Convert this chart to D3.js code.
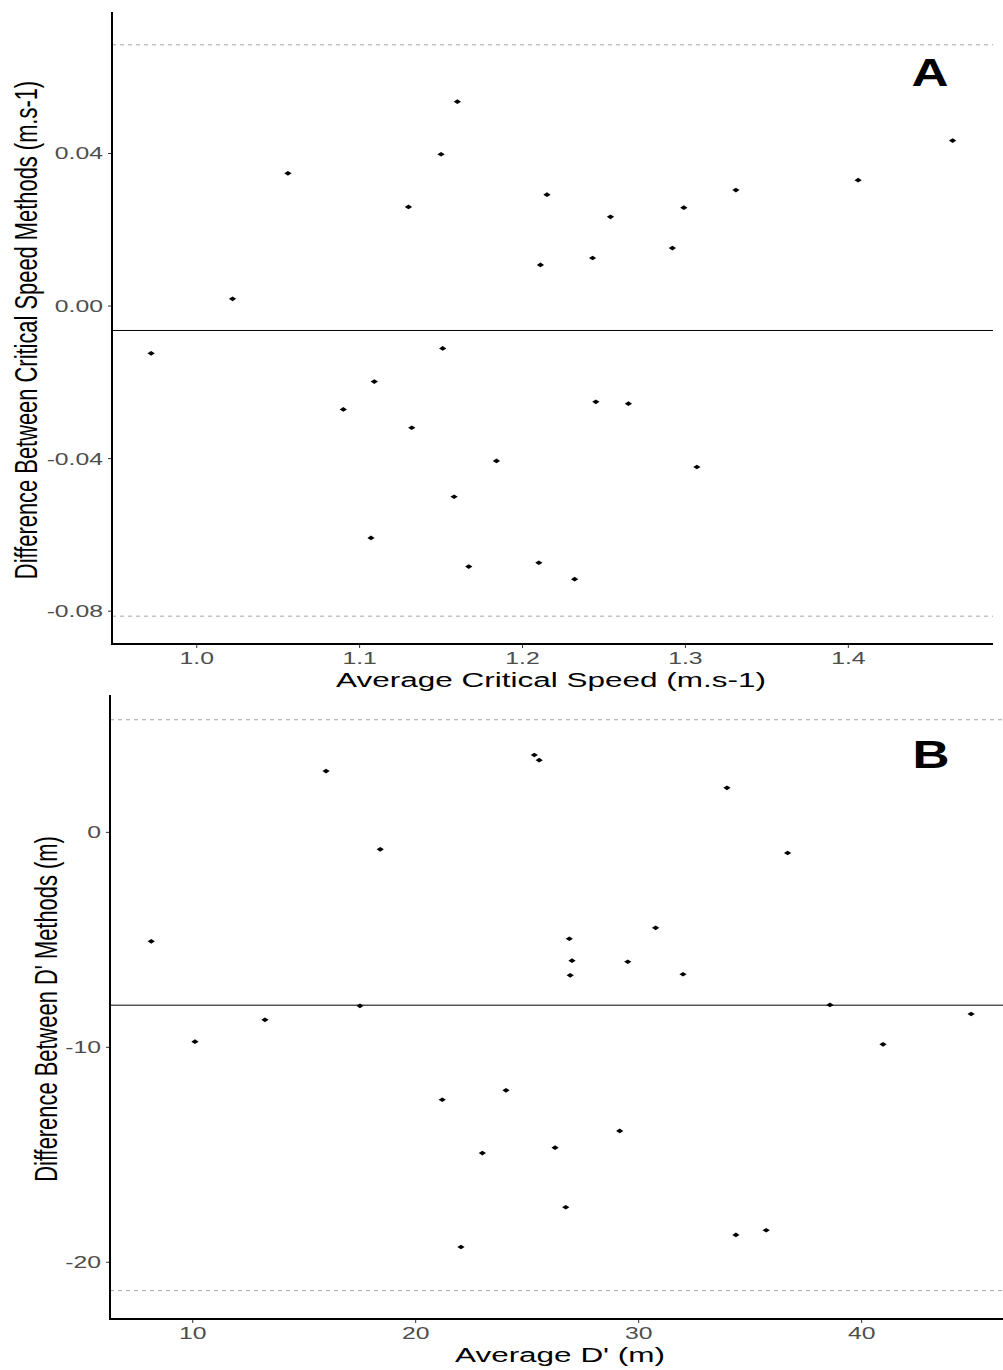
<!doctype html>
<html>
<head>
    <meta charset="utf-8"/>
    <style>
        html, body {
            margin: 0;
            padding: 0;
            background: #fff;
        }
        svg {
            display: block;
            font-family: "Liberation Sans", Arial, sans-serif;
        }
        .tick-label {
            fill: #4d4d4d;
            font-size: 16.5px;
        }
        .axis-title {
            fill: #000;
            font-size: 21px;
        }
        .axis-title.rot {
            font-size: 21.9px;
        }
        .panel-tag {
            fill: #000;
            font-size: 38px;
            font-weight: bold;
        }
    </style>
    <script src="https://d3js.org/d3.v7.min.js"></script>
</head>
<body>

<svg width="1003" height="1370"></svg>

<script>
    // Panel A: critical speed (m.s-1)
    var aAvg = [0.972, 1.022, 1.056, 1.090, 1.109, 1.107, 1.130, 1.132, 1.150, 1.151,
                1.160, 1.158, 1.167, 1.184, 1.211, 1.210, 1.215, 1.232, 1.243, 1.245,
                1.254, 1.265, 1.292, 1.299, 1.307, 1.331, 1.406, 1.464];
    var aDiff = [-0.0124, 0.0019, 0.0348, -0.0271, -0.0198, -0.0608, 0.0260, -0.0319, 0.0398, -0.0111,
                 0.0536, -0.0500, -0.0683, -0.0406, 0.0108, -0.0673, 0.0292, -0.0716, 0.0126, -0.0251,
                 0.0234, -0.0256, 0.0152, 0.0258, -0.0422, 0.0304, 0.0330, 0.0434];
    var aBias = -0.0064;
    var aLimits = [0.0685, -0.0813];
    var aXTicks = [1.0, 1.1, 1.2, 1.3, 1.4];
    var aYTicks = [-0.08, -0.04, 0.00, 0.04];

    // Panel B: D' (m)
    var bAvg = [8.14, 15.98, 18.41, 17.50, 13.24, 25.32, 25.54, 33.96, 36.68, 26.89,
                30.76, 27.01, 29.51, 26.93, 31.99, 38.58, 44.91, 10.10, 21.19, 22.99,
                22.03, 24.05, 26.25, 29.15, 26.73, 34.36, 35.72, 40.96];
    var bDiff = [-5.07, 2.85, -0.79, -8.07, -8.72, 3.60, 3.36, 2.07, -0.96, -4.95,
                 -4.44, -5.97, -6.02, -6.65, -6.60, -8.03, -8.45, -9.74, -12.44, -14.92,
                 -19.29, -12.00, -14.67, -13.89, -17.44, -18.73, -18.51, -9.86];
    var bBias = -8.04;
    var bLimits = [5.24, -21.32];
    var bXTicks = [10, 20, 30, 40];
    var bYTicks = [-20, -10, 0];

    var svg = d3.select("svg");
    var SX = 1.5; // the original picture is stretched sideways

    function drawPanel(opt) {
        var x = d3.scaleLinear().domain(opt.xDomain).range([opt.left, opt.right]);
        var y = d3.scaleLinear().domain(opt.yDomain).range([opt.bottom, opt.top]);
        var g = svg.append("g");

        // limits of agreement and bias
        opt.limits.forEach(function(v) {
            g.append("line")
                .attr("x1", opt.left).attr("x2", opt.right)
                .attr("y1", y(v)).attr("y2", y(v))
                .attr("stroke", "#a6a6a6").attr("stroke-width", 1)
                .attr("stroke-dasharray", "4,4");
        });
        g.append("line")
            .attr("x1", opt.left).attr("x2", opt.right)
            .attr("y1", y(opt.bias)).attr("y2", y(opt.bias))
            .attr("stroke", "#000").attr("stroke-width", 1);

        // points (flattened diamonds)
        var diamond = d3.symbol().type(d3.symbolSquare).size(11);
        g.append("g").selectAll("path")
            .data(d3.zip(opt.xs, opt.ys))
            .enter().append("path")
            .attr("d", diamond)
            .attr("fill", "#000")
            .attr("transform", function(d) {
                return "translate(" + x(d[0]) + "," + y(d[1]) + ") scale(1.55,1) rotate(45)";
            });

        // axis lines
        g.append("line")
            .attr("x1", opt.left).attr("x2", opt.left)
            .attr("y1", opt.top).attr("y2", opt.bottom + 1)
            .attr("stroke", "#000").attr("stroke-width", 2);
        g.append("line")
            .attr("x1", opt.left - 1).attr("x2", opt.right)
            .attr("y1", opt.bottom).attr("y2", opt.bottom)
            .attr("stroke", "#000").attr("stroke-width", 2);

        // ticks
        opt.xTicks.forEach(function(t) {
            g.append("line")
                .attr("x1", x(t)).attr("x2", x(t))
                .attr("y1", opt.bottom + 1).attr("y2", opt.bottom + 4)
                .attr("stroke", "#333").attr("stroke-width", 1);
            g.append("text")
                .attr("class", "tick-label")
                .attr("text-anchor", "middle")
                .attr("transform", "translate(" + x(t) + "," + (opt.bottom + 20) + ") scale(" + SX + ",1)")
                .text(opt.xFormat(t));
        });
        opt.yTicks.forEach(function(t) {
            g.append("line")
                .attr("x1", opt.left - 4).attr("x2", opt.left - 1)
                .attr("y1", y(t)).attr("y2", y(t))
                .attr("stroke", "#333").attr("stroke-width", 1);
            g.append("text")
                .attr("class", "tick-label")
                .attr("text-anchor", "end")
                .attr("dy", "0.36em")
                .attr("transform", "translate(" + (opt.left - 9) + "," + y(t) + ") scale(" + SX + ",1)")
                .text(opt.yFormat(t));
        });

        // titles
        g.append("text")
            .attr("class", "axis-title")
            .attr("text-anchor", "middle")
            .attr("transform", "translate(" + opt.xTitleX + "," + (opt.bottom + 43) + ") scale(" + SX + ",1)")
            .text(opt.xTitle);
        g.append("text")
            .attr("class", "axis-title rot")
            .attr("text-anchor", "middle")
            .attr("transform", "translate(" + opt.yTitleX + "," + ((opt.top + opt.bottom) / 2 + 2) + ") rotate(-90) scale(1,1.42)")
            .text(opt.yTitle);

        g.append("text")
            .attr("class", "panel-tag")
            .attr("text-anchor", "middle")
            .attr("transform", "translate(" + opt.tagX + "," + opt.tagY + ") scale(1.35,1)")
            .text(opt.tag);
    }

    drawPanel({
        xs: aAvg, ys: aDiff, bias: aBias, limits: aLimits,
        xDomain: [0.948, 1.4888], yDomain: [-0.0886, 0.0771],
        left: 112, right: 993, top: 12, bottom: 644,
        xTicks: aXTicks, yTicks: aYTicks,
        xFormat: d3.format(".1f"), yFormat: function(v) { return d3.format(".2f")(v).replace("−", "-"); },
        xTitle: "Average Critical Speed (m.s-1)", xTitleX: 551,
        yTitle: "Difference Between Critical Speed Methods (m.s-1)", yTitleX: 37,
        tag: "A", tagX: 930, tagY: 86
    });

    drawPanel({
        xs: bAvg, ys: bDiff, bias: bBias, limits: bLimits,
        xDomain: [6.29, 46.34], yDomain: [-22.64, 6.39],
        left: 110, right: 1003, top: 695, bottom: 1319,
        xTicks: bXTicks, yTicks: bYTicks,
        xFormat: d3.format("d"), yFormat: function(v) { return String(v); },
        xTitle: "Average D' (m)", xTitleX: 560,
        yTitle: "Difference Between D' Methods (m)", yTitleX: 57,
        tag: "B", tagX: 931, tagY: 768
    });
</script>

</body>
</html>
